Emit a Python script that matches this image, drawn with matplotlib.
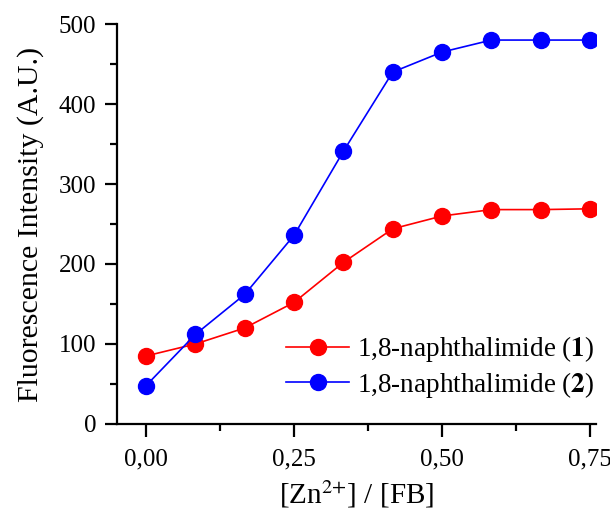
import matplotlib
matplotlib.use("Agg")
import matplotlib.pyplot as plt
from matplotlib.ticker import MultipleLocator

# данные титрования
ratio = [0.0, 1/12, 2/12, 3/12, 4/12, 5/12, 6/12, 7/12, 8/12, 9/12]
naph1 = [85, 100, 120, 152, 202, 244, 260, 268, 268, 269]
naph2 = [48, 112, 162, 236, 341, 440, 465, 480, 480, 480]
xticks = [0.0, 0.25, 0.50, 0.75]
xticklabels = ["0,00", "0,25", "0,50", "0,75"]
yticks = [0, 100, 200, 300, 400, 500]

plt.rcParams['font.family'] = ['Liberation Serif', 'DejaVu Serif']
plt.rcParams['mathtext.fontset'] = 'stix'

fig = plt.figure(figsize=(6.1, 5.12), dpi=100)
ax = fig.add_axes([0.192, 0.172, 0.785, 0.781])

ax.plot(ratio, naph1, '-o', color='#ff0000', lw=1.2, ms=11.5,
        label=r'1,8-naphthalimide ($\mathbf{1}$)')
ax.plot(ratio, naph2, '-o', color='#0000ff', lw=1.2, ms=11.5,
        label=r'1,8-naphthalimide ($\mathbf{2}$)')

ax.set_xlim(-0.049, 0.76)
ax.set_ylim(0, 500)
ax.set_xticks(xticks)
ax.set_xticklabels(xticklabels)
ax.set_yticks(yticks)
ax.xaxis.set_minor_locator(MultipleLocator(0.125))
ax.yaxis.set_minor_locator(MultipleLocator(50))

for s in ['top', 'right']:
    ax.spines[s].set_visible(False)
for s in ['left', 'bottom']:
    ax.spines[s].set_linewidth(1.6)
ax.tick_params(which='major', length=9, width=1.6, labelsize=18, direction='out')
ax.tick_params(which='minor', length=5, width=1.6, direction='out')
ax.tick_params(axis='x', pad=9)
ax.tick_params(axis='y', pad=6)

ax.set_xlabel(r'[Zn$^{2{+}}$] / [FB]', fontsize=21, labelpad=5)
ax.set_ylabel('Fluorescence Intensity (A.U.)', fontsize=21.5, labelpad=11)

ax.legend(loc='lower right', bbox_to_anchor=(1.03, 0.02), frameon=False,
          fontsize=19.5, handlelength=2.3, handletextpad=0.3, labelspacing=0.2,
          borderaxespad=0.2)

fig.savefig('out.png', dpi=100)
